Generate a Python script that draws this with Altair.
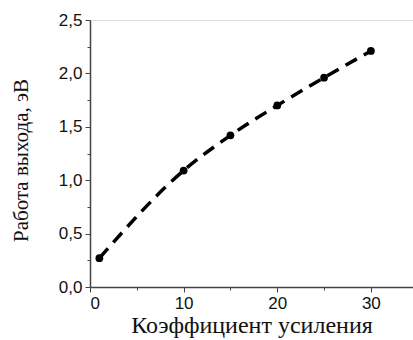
import altair as alt
import pandas as pd

gain = [1, 10, 15, 20, 25, 30]
work = [0.27, 1.09, 1.42, 1.70, 1.96, 2.21]

df = pd.DataFrame({"k": gain, "w": work})

x_vals = [0, 5, 10, 15, 20, 25, 30]
y_vals = [i * 0.25 for i in range(11)]

xaxis = alt.Axis(
    values=x_vals,
    labelExpr="datum.value % 10 === 0 ? datum.label : ''",
    tickSize={"condition": {"test": "datum.value % 10 === 0", "value": 5}, "value": 3},
    grid=False,
    domainColor="#444", tickColor="#444", domainWidth=1.5,
    labelFont="Liberation Sans", labelFontSize=17, labelColor="#111",
    labelPadding=3,
    titleFont="Liberation Serif", titleFontSize=24, titleFontWeight="normal",
    titleColor="#111", titlePadding=2,
    title="Коэффициент усиления",
)
yaxis = alt.Axis(
    values=y_vals,
    labelExpr="datum.value % 0.5 === 0 ? replace(format(datum.value, '.1f'), '.', ',') : ''",
    tickSize={"condition": {"test": "datum.value % 0.5 === 0", "value": 5}, "value": 3},
    grid=False,
    domainColor="#444", tickColor="#444", domainWidth=1.5,
    labelFont="Liberation Sans", labelFontSize=17, labelColor="#111",
    labelPadding=3,
    titleFont="Liberation Serif", titleFontSize=21, titleFontWeight="normal",
    titleColor="#111", titlePadding=27, titleY=140,
    title="Работа выхода, эВ",
)

x = alt.X("k:Q", scale=alt.Scale(domain=[0, 34.5], nice=False, zero=False), axis=xaxis)
y = alt.Y("w:Q", scale=alt.Scale(domain=[0, 2.5], nice=False), axis=yaxis)

line = alt.Chart(df).mark_line(
    color="black", strokeWidth=3.5, strokeDash=[13, 8], interpolate="monotone"
).encode(x=x, y=y)
pts = alt.Chart(df).mark_point(filled=True, color="black", size=60, opacity=1).encode(x=x, y=y)

chart = (line + pts).properties(
    width=323, height=267,
    padding={"left": 90, "top": 20, "right": 0, "bottom": 53},
    autosize=alt.AutoSizeParams(type="none"),
).configure_view(stroke=None).configure(background="white")

chart.save("out.html", embed_options={"renderer": "svg", "actions": False})
